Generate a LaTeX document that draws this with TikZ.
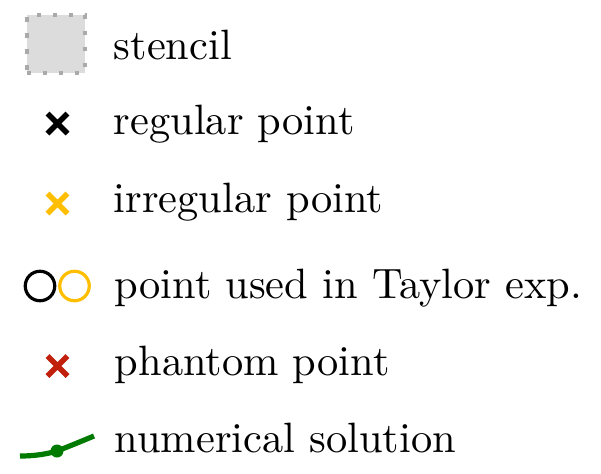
\documentclass[tikz,border=0pt]{standalone}
\usetikzlibrary{calc}
\definecolor{stfill}{HTML}{DCDCDC}
\definecolor{stdraw}{HTML}{AAAAAA}
\definecolor{irrcol}{HTML}{FFBF00}
\definecolor{phcol}{HTML}{C0200C}
\definecolor{numcol}{HTML}{007A00}
\begin{document}
\begin{tikzpicture}[x=0.238pt,y=-0.238pt,
  lbl/.style={anchor=base west,inner sep=0pt,font=\fontsize{10.1}{12}\selectfont},
  crossmark/.style={line width=5.4*0.238pt, line cap=butt},
  ring/.style={line width=3.2*0.238pt},
  stencilbox/.style={fill=stfill,draw=stdraw,line width=4.5*0.238pt,dash pattern=on 4.5*0.238pt off 11.5*0.238pt},
]
\useasboundingbox (0,0) rectangle (601,473);
% stencil
\node[stencilbox,minimum width=58*0.238pt,minimum height=58*0.238pt,inner sep=0pt] (st) at (56,44) {};
\node[lbl] (tst) at (113,59) {stencil};
% regular point
\coordinate (rp) at (57.5,123.5);
\draw[crossmark,black] ($(rp)+(-10,-10)$) -- ($(rp)+(10,10)$) ($(rp)+(-10,10)$) -- ($(rp)+(10,-10)$);
\node[lbl] (trp) at (113,134) {regular point};
% irregular point
\coordinate (ip) at (57.5,203.5);
\draw[crossmark,irrcol] ($(ip)+(-10,-10)$) -- ($(ip)+(10,10)$) ($(ip)+(-10,10)$) -- ($(ip)+(10,-10)$);
\node[lbl] (tip) at (113,212) {irregular point};
% taylor
\node[circle,draw=black,ring,minimum size=29.5*0.238pt,inner sep=0pt] (c1) at (40,286) {};
\node[circle,draw=irrcol,ring,minimum size=29.5*0.238pt,inner sep=0pt] (c2) at (74.5,286) {};
\node[lbl] (tty) at (114,298) {point used in Taylor exp.};
% phantom
\coordinate (pp) at (57.5,366);
\draw[crossmark,phcol] ($(pp)+(-10,-10)$) -- ($(pp)+(10,10)$) ($(pp)+(-10,10)$) -- ($(pp)+(10,-10)$);
\node[lbl] (tpp) at (114,375) {phantom point};
% numerical solution
\coordinate (ns0) at (20,456);
\coordinate (ns1) at (57,451);
\coordinate (ns2) at (94,436);
\draw[numcol,line width=5.2*0.238pt] (ns0) .. controls (35,456) and (47,454) .. (ns1) .. controls (70,446) and (82,441) .. (ns2);
\fill[numcol] (ns1) circle (6.5);
\node[lbl] (tns) at (114,452) {numerical solution};
\end{tikzpicture}
\end{document}
